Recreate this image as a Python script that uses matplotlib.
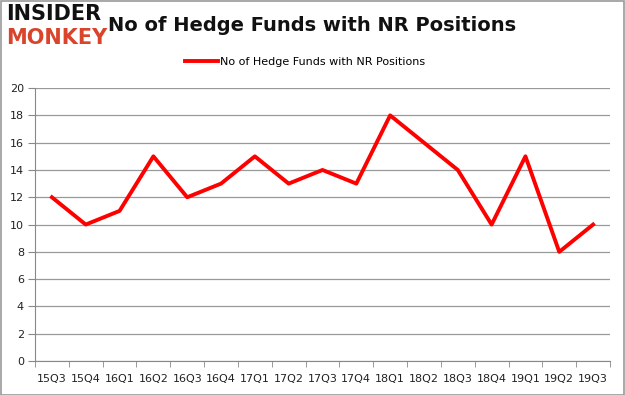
import matplotlib
matplotlib.use("Agg")
import numpy as np
from matplotlib import pyplot as plt

quarters = ['15Q3', '15Q4', '16Q1', '16Q2', '16Q3', '16Q4', '17Q1', '17Q2', '17Q3',
            '17Q4', '18Q1', '18Q2', '18Q3', '18Q4', '19Q1', '19Q2', '19Q3']
funds = [12, 10, 11, 15, 12, 13, 15, 13, 14, 13, 18, 16, 14, 10, 15, 8, 10]
yticks = [0, 2, 4, 6, 8, 10, 12, 14, 16, 18, 20]
series_name = 'No of Hedge Funds with NR Positions'

fig = plt.figure(figsize=(6.25, 3.95), dpi=100)
ax = fig.add_axes([0.056, 0.086, 0.92, 0.691])

x = np.arange(len(quarters))
ax.plot(x, funds, color='#ff0000', lw=2.8, label=series_name)

ax.set_xlim(-0.5, len(quarters) - 0.5)
ax.set_ylim(0, 20)
ax.set_yticks(yticks)
ax.set_xticks(x)
ax.set_xticklabels(quarters)
ax.set_xticks(np.arange(len(quarters) + 1) - 0.5, minor=True)
ax.tick_params(axis='x', which='major', length=0, pad=9, labelsize=8, labelcolor='#222222')
ax.tick_params(axis='x', which='minor', length=4, color='#888888')
ax.tick_params(axis='y', length=5, color='#888888', labelsize=8, labelcolor='#222222', pad=3)
ax.grid(axis='y', color='#999999', lw=0.9)
ax.set_axisbelow(True)
for side in ['top', 'right']:
    ax.spines[side].set_visible(False)
for side in ['left', 'bottom']:
    ax.spines[side].set_color('#888888')

fig.text(0.5, 0.935, series_name, ha='center', va='center', fontsize=14,
         fontweight='bold', color='#111111')
ax.legend(loc='lower center', bbox_to_anchor=(0.47, 1.04), frameon=False,
          fontsize=8, handlelength=3, handletextpad=0.2)

# logo
fig.text(0.01, 0.965, 'INSIDER', ha='left', va='center', fontsize=15,
         fontweight='bold', color='#111111')
fig.text(0.01, 0.905, 'MONKEY', ha='left', va='center', fontsize=15,
         fontweight='bold', color='#d9442b')

# outer border
fig.patches.append(plt.Rectangle((0.001, 0.001), 0.997, 0.997, transform=fig.transFigure,
                                 fill=False, edgecolor='#999999', lw=1.2))

fig.savefig('out.png', dpi=100)
